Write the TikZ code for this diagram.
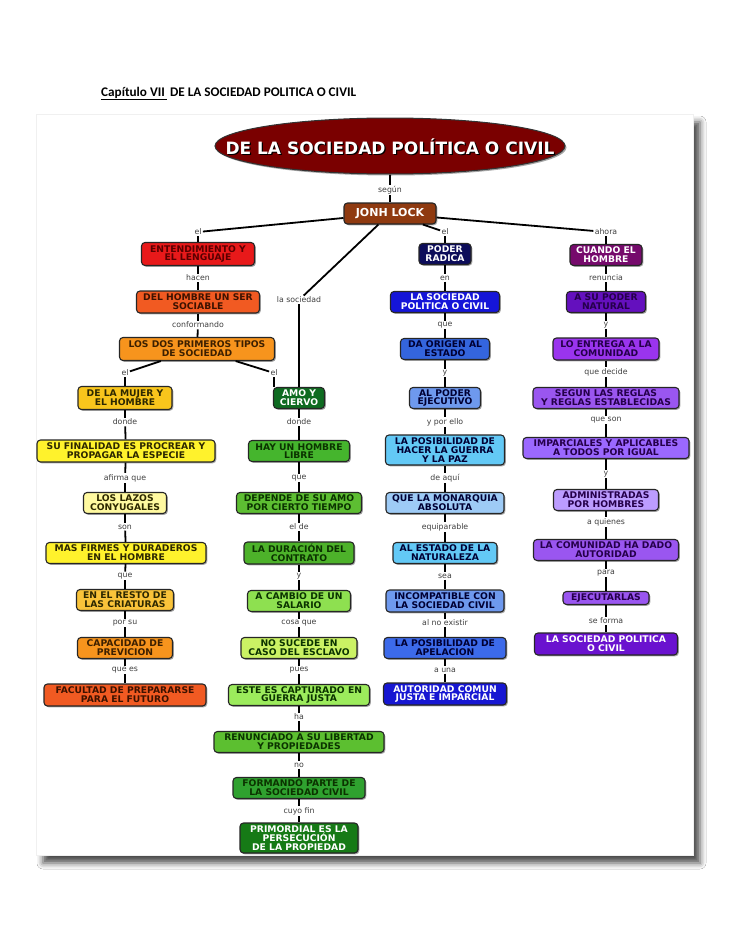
\documentclass[tikz,border=0pt]{standalone}
\usepackage{fontspec}
\setmainfont{DejaVu Sans}
\newfontfamily\carl{Carlito}
\usetikzlibrary{shapes.geometric,shadows,shadows.blur}
% colours
\definecolor{cHead}{HTML}{7A0000}
\definecolor{cJL}{HTML}{8F3A10}
\definecolor{cEnt}{HTML}{E8191A}\definecolor{tEnt}{HTML}{5A0000}
\definecolor{cOrR}{HTML}{F15A22}\definecolor{tOrR}{HTML}{3D1200}
\definecolor{cOr}{HTML}{F7941D}\definecolor{tOr}{HTML}{3D2000}
\definecolor{cGold}{HTML}{F8C51C}\definecolor{cGold2}{HTML}{F9C33A}
\definecolor{cYel}{HTML}{FFF22C}\definecolor{cYelL}{HTML}{FFF9A0}
\definecolor{tYel}{HTML}{2D2800}
\definecolor{cG1}{HTML}{0E6B21}\definecolor{cG2}{HTML}{45B52D}
\definecolor{cG3}{HTML}{5DBE32}\definecolor{cG4}{HTML}{4DB22A}
\definecolor{cG5}{HTML}{8EE050}\definecolor{cG6}{HTML}{CBF264}
\definecolor{cG7}{HTML}{9CEB5C}\definecolor{cG8}{HTML}{5CBF30}
\definecolor{cG9}{HTML}{2FA12F}\definecolor{cG10}{HTML}{167A16}
\definecolor{tG}{HTML}{0B3300}
\definecolor{cB1}{HTML}{0C0C5A}\definecolor{cB2}{HTML}{1515D8}
\definecolor{cB3}{HTML}{3465DE}\definecolor{cB4}{HTML}{6E99EE}
\definecolor{cB5}{HTML}{63C9F6}\definecolor{cB6}{HTML}{9ECBF6}
\definecolor{cB7}{HTML}{3C6AEA}\definecolor{cB8}{HTML}{1717D2}
\definecolor{tB}{HTML}{000033}
\definecolor{cP1}{HTML}{760A6C}\definecolor{cP2}{HTML}{6410BE}
\definecolor{cP3}{HTML}{9A34EE}\definecolor{cP4}{HTML}{9A56F0}
\definecolor{cP5}{HTML}{9B68FF}\definecolor{cP6}{HTML}{BC9CFF}
\definecolor{cP7}{HTML}{6A12CF}
\definecolor{tP}{HTML}{25004A}
\tikzset{
  cbox/.style={draw=black!85, line width=1.1pt, rounded corners=3.5pt,
    align=center, inner sep=1pt,
    font=\fontsize{9.2}{8.8}\selectfont\bfseries,
    drop shadow={shadow xshift=1.3pt, shadow yshift=-1.3pt, opacity=0.35, fill=black}},
  lab/.style={font=\fontsize{7.8}{8}\selectfont, text=black!75, inner sep=1.2pt},
  con/.style={line width=1.8pt, black},
}
\newcommand\bx[8]{\node[cbox, fill=#6, text=#7, minimum width=#4pt, minimum height=#5pt] (#1) at (#2,#3) {#8};}
\newcommand\lb[4]{\node[lab] (#1) at (#2,#3) {#4};}
\newcommand\cn[3]{\draw[con] (#1) -- (#2); \draw[con] (#2) -- (#3);}
\begin{document}
\begin{tikzpicture}[x=1pt,y=-1pt]
\useasboundingbox (0,0) rectangle (728,942);
\fill[white] (0,0) rectangle (728,942);
% page title
\node[anchor=base west, inner sep=0pt, font=\carl\bfseries\fontsize{13.2}{13.2}\selectfont] (pagetitle) at (101,96)
  {\underline{Capítulo VII\,}\ DE LA SOCIEDAD POLITICA O CIVIL};
% frame
\fill[white, blur shadow={shadow xshift=7pt, shadow yshift=-8pt, shadow blur radius=6pt, shadow opacity=70}] (36,114) rectangle (693,855);
\draw[black!6, line width=1pt] (36,114) rectangle (693,855);
% head
\node[ellipse, draw=black!80, line width=1pt, fill=cHead, minimum width=350pt, minimum height=56pt,
  drop shadow={shadow xshift=1.5pt, shadow yshift=-1.5pt, opacity=0.35, fill=black}] (head) at (390,146) {};
\node[font=\fontsize{17}{17}\selectfont\bfseries, text=black] (headsh) at (391.2,148.2) {DE LA SOCIEDAD POLÍTICA O CIVIL};
\node[font=\fontsize{17}{17}\selectfont\bfseries, text=white] (headtx) at (390,147) {DE LA SOCIEDAD POLÍTICA O CIVIL};
\lb{lsegun}{390}{190}{según}
\node[cbox, fill=cJL, text=white, minimum width=92pt, minimum height=21pt, font=\fontsize{11}{11}\selectfont\bfseries] (jl) at (390,213.5) {JONH LOCK};
% ---------- left column ----------
\lb{lel1}{198}{232}{el}
\bx{ent}{198}{254}{113}{23}{cEnt}{tEnt}{ENTENDIMIENTO Y\\EL LENGUAJE}
\lb{lhacen}{198}{278}{hacen}
\bx{delh}{198}{302}{123}{22}{cOrR}{tOrR}{DEL HOMBRE UN SER\\SOCIABLE}
\lb{lconf}{198}{325}{conformando}
\bx{losdos}{197}{349}{155}{23}{cOr}{tOr}{LOS DOS PRIMEROS TIPOS\\DE SOCIEDAD}
\lb{lel3}{125}{373}{el}
\lb{lel4}{274}{373}{el}
\bx{mujer}{125}{398}{94}{23}{cGold}{tYel}{DE LA MUJER Y\\EL HOMBRE}
\lb{ldonde1}{125}{422}{donde}
\bx{sufin}{126}{451}{178}{22}{cYel}{tYel}{SU FINALIDAD ES PROCREAR Y\\PROPAGAR LA ESPECIE}
\lb{lafirma}{125}{478}{afirma que}
\bx{lazos}{125}{503}{83}{21}{cYelL}{tYel}{LOS LAZOS\\CONYUGALES}
\lb{lson}{125}{527}{son}
\bx{masf}{126}{553}{160}{21}{cYel}{tYel}{MAS FIRMES Y DURADEROS\\EN EL HOMBRE}
\lb{lque1}{125}{576}{que}
\bx{resto}{125}{600}{97}{21}{cGold2}{tYel}{EN EL RESTO DE\\LAS CRIATURAS}
\lb{lporsu}{125}{623}{por su}
\bx{capac}{125}{648}{95}{21}{cOr}{tOr}{CAPACIDAD DE\\PREVICION}
\lb{lquees}{125}{670}{que es}
\bx{facult}{125}{695}{162}{22}{cOrR}{tOrR}{FACULTAD DE PREPARARSE\\PARA EL FUTURO}
% ---------- middle column ----------
\lb{llasoc}{299}{300}{la sociedad}
\bx{amo}{299}{398}{51}{21}{cG1}{white}{AMO Y\\CIERVO}
\lb{ldonde2}{299}{422}{donde}
\bx{hay}{299}{451}{101}{21}{cG2}{tG}{HAY UN HOMBRE\\LIBRE}
\lb{lque2}{299}{478}{que}
\bx{dep}{299}{503}{125}{21}{cG3}{tG}{DEPENDE DE SU AMO\\POR CIERTO TIEMPO}
\lb{lelde}{299}{527}{el de}
\bx{dur}{299}{553}{110}{22}{cG4}{tG}{LA DURACIÓN DEL\\CONTRATO}
\lb{ly1}{299}{576}{y}
\bx{camb}{299}{601}{103}{21}{cG5}{tG}{A CAMBIO DE UN\\SALARIO}
\lb{lcosa}{299}{623}{cosa que}
\bx{nosuc}{299}{648}{116}{21}{cG6}{tG}{NO SUCEDE EN\\CASO DEL ESCLAVO}
\lb{lpues}{299}{670}{pues}
\bx{este}{299}{695}{141}{21}{cG7}{tG}{ESTE ES CAPTURADO EN\\GUERRA JUSTA}
\lb{lha}{299}{717}{ha}
\bx{renun}{299}{742}{170}{21}{cG8}{tG}{RENUNCIADO A SU LIBERTAD\\Y PROPIEDADES}
\lb{lno}{299}{765}{no}
\bx{form}{299}{788}{132}{21}{cG9}{tG}{FORMANDO PARTE DE\\LA SOCIEDAD CIVIL}
\lb{lcuyo}{299}{811}{cuyo fin}
\bx{prim}{299}{838}{118}{30}{cG10}{white}{PRIMORDIAL ES LA\\PERSECUCIÓN\\DE LA PROPIEDAD}
% ---------- blue column ----------
\lb{lel2}{445}{232}{el}
\bx{poder}{445}{254}{52}{21}{cB1}{white}{PODER\\RADICA}
\lb{len}{445}{278}{en}
\bx{lasocpol}{445}{302}{109}{21}{cB2}{white}{LA SOCIEDAD\\POLITICA O CIVIL}
\lb{lque3}{445}{325}{que}
\bx{daor}{445}{349}{89}{21}{cB3}{tB}{DA ORIGEN AL\\ESTADO}
\lb{ly2}{445}{373}{y}
\bx{alpod}{445}{398}{71}{21}{cB4}{tB}{AL PODER\\EJECUTIVO}
\lb{lypor}{445}{422}{y por ello}
\bx{lapos1}{445}{450}{119}{30}{cB5}{tB}{LA POSIBILIDAD DE\\HACER LA GUERRA\\Y LA PAZ}
\lb{ldeaqui}{445}{478}{de aquí}
\bx{quela}{445}{503}{118}{21}{cB6}{tB}{QUE LA MONARQUIA\\ABSOLUTA}
\lb{lequip}{445}{527}{equiparable}
\bx{alest}{445}{553}{104}{21}{cB5}{tB}{AL ESTADO DE LA\\NATURALEZA}
\lb{lsea}{445}{576}{sea}
\bx{incomp}{445}{601}{118}{22}{cB4}{tB}{INCOMPATIBLE CON\\LA SOCIEDAD CIVIL}
\lb{lalno}{445}{623}{al no existir}
\bx{lapos2}{445}{648}{122}{21}{cB7}{tB}{LA POSIBILIDAD DE\\APELACION}
\lb{launa}{445}{670}{a una}
\bx{autor}{445}{694}{123}{22}{cB8}{white}{AUTORIDAD COMUN\\JUSTA E IMPARCIAL}
% ---------- purple column ----------
\lb{lahora}{606}{232}{ahora}
\bx{cuando}{606}{255}{72}{21}{cP1}{white}{CUANDO EL\\HOMBRE}
\lb{lrenun}{606}{278}{renuncia}
\bx{asu}{606}{302}{79}{21}{cP2}{tP}{A SU PODER\\NATURAL}
\lb{ly3}{606}{325}{y}
\bx{loent}{606}{349}{106}{22}{cP3}{tP}{LO ENTREGA A LA\\COMUNIDAD}
\lb{lqdec}{606}{372}{que decide}
\bx{segun}{606}{398}{146}{21}{cP4}{tP}{SEGUN LAS REGLAS\\Y REGLAS ESTABLECIDAS}
\lb{lqson}{606}{420}{que son}
\bx{imparc}{606}{448}{166}{21}{cP5}{tP}{IMPARCIALES Y APLICABLES\\A TODOS POR IGUAL}
\lb{ly4}{606}{474}{y}
\bx{admin}{606}{500}{105}{21}{cP6}{tP}{ADMINISTRADAS\\POR HOMBRES}
\lb{laquien}{606}{522}{a quienes}
\bx{lacom}{606}{550}{145}{21}{cP4}{tP}{LA COMUNIDAD HA DADO\\AUTORIDAD}
\lb{lpara}{606}{573}{para}
\bx{ejec}{606}{598}{86}{13}{cP4}{tP}{EJECUTARLAS}
\lb{lseforma}{606}{621}{se forma}
\bx{lasoc2}{606}{644}{143}{22}{cP7}{white}{LA SOCIEDAD POLITICA\\O CIVIL}
% ---------- connectors ----------
\cn{head}{lsegun}{jl}
\cn{jl}{lel1}{ent}
\cn{jl}{llasoc}{amo}
\cn{jl}{lel2}{poder}
\cn{jl}{lahora}{cuando}
\cn{ent}{lhacen}{delh}
\cn{delh}{lconf}{losdos}
\cn{losdos}{lel3}{mujer}
\draw[con] (losdos) -- (lel4);
\draw[con] (lel4.south) -- (lel4.south |- amo.north);
\cn{mujer}{ldonde1}{sufin}
\cn{sufin}{lafirma}{lazos}
\cn{lazos}{lson}{masf}
\cn{masf}{lque1}{resto}
\cn{resto}{lporsu}{capac}
\cn{capac}{lquees}{facult}
\cn{amo}{ldonde2}{hay}
\cn{hay}{lque2}{dep}
\cn{dep}{lelde}{dur}
\cn{dur}{ly1}{camb}
\cn{camb}{lcosa}{nosuc}
\cn{nosuc}{lpues}{este}
\cn{este}{lha}{renun}
\cn{renun}{lno}{form}
\cn{form}{lcuyo}{prim}
\cn{poder}{len}{lasocpol}
\cn{lasocpol}{lque3}{daor}
\cn{daor}{ly2}{alpod}
\cn{alpod}{lypor}{lapos1}
\cn{lapos1}{ldeaqui}{quela}
\cn{quela}{lequip}{alest}
\cn{alest}{lsea}{incomp}
\cn{incomp}{lalno}{lapos2}
\cn{lapos2}{launa}{autor}
\cn{cuando}{lrenun}{asu}
\cn{asu}{ly3}{loent}
\cn{loent}{lqdec}{segun}
\cn{segun}{lqson}{imparc}
\cn{imparc}{ly4}{admin}
\cn{admin}{laquien}{lacom}
\cn{lacom}{lpara}{ejec}
\cn{ejec}{lseforma}{lasoc2}
\end{tikzpicture}
\end{document}
